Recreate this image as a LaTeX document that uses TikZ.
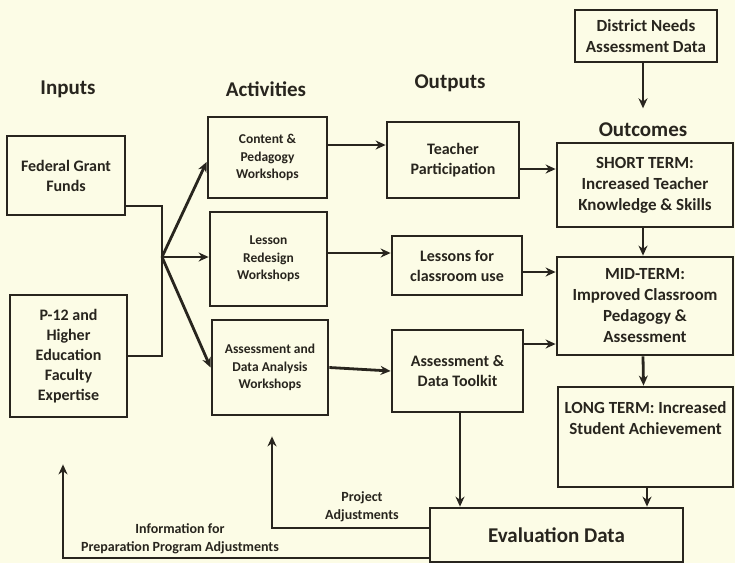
\documentclass[tikz,border=0pt]{standalone}
\usepackage{fontspec}
\setmainfont{Carlito}
\usetikzlibrary{arrows.meta}
\definecolor{paper}{RGB}{252,252,230}
\definecolor{ink}{RGB}{40,37,30}

\begin{document}
\begin{tikzpicture}[x=1pt, y=-1pt, line width=2.8pt, color=ink,
  box/.style={draw, rectangle, align=center, inner sep=2pt},
  head/.style={font=\fontsize{21}{24}\selectfont\bfseries},
  intxt/.style={font=\fontsize{16}{20}\selectfont\bfseries},
  wstxt/.style={font=\fontsize{13.5}{17.5}\selectfont\bfseries},
  outtxt/.style={font=\fontsize{17}{21}\selectfont\bfseries},
  labtxt/.style={font=\fontsize{14}{17.5}\selectfont\bfseries, align=center},
  arr/.style={-{Stealth[length=10pt,width=9pt]}}]
\fill[paper] (0,0) rectangle (735,563);
\useasboundingbox (0,0) rectangle (735,563);

% headers
\node[head] (hin) at (68,89) {Inputs};
\node[head] (hact) at (266,89) {Activities};
\node[head] (hout) at (450,83) {Outputs};
\node[head] (hoc) at (643,130) {Outcomes};

% inputs
\node[box, intxt, minimum width=118pt, minimum height=79pt] (fed) at (66,175.5) {Federal Grant\\Funds};
\node[box, intxt, minimum width=117pt, minimum height=122pt] (p12) at (68.5,356) {P-12 and\\Higher\\Education\\Faculty\\Expertise};

% activities
\node[box, wstxt, minimum width=119pt, minimum height=81pt] (cont) at (267.5,157.5) {Content \&\\Pedagogy\\Workshops};
\node[box, wstxt, minimum width=117pt, minimum height=94pt] (less) at (268.5,259) {Lesson\\Redesign\\Workshops};
\node[box, wstxt, minimum width=116pt, minimum height=95pt] (aws) at (270,367.5) {Assessment and\\Data Analysis\\Workshops};

% outputs
\node[box, intxt, minimum width=132pt, minimum height=76pt] (teach) at (453,160) {Teacher\\Participation};
\node[box, intxt, minimum width=130pt, minimum height=59pt] (lout) at (457,265.5) {Lessons for\\classroom use};
\node[box, intxt, minimum width=131pt, minimum height=82pt] (kit) at (457.5,371) {Assessment \&\\Data Toolkit};

% outcomes
\node[box, minimum width=142pt, minimum height=52pt, font=\fontsize{17}{21.5}\selectfont\bfseries] (dist) at (646,36) {District Needs\\Assessment Data};
\node[box, outtxt, minimum width=176pt, minimum height=84pt] (short) at (645,185) {SHORT TERM:\\Increased Teacher\\Knowledge \& Skills};
\node[box, outtxt, minimum width=176pt, minimum height=98pt] (mid) at (645,306) {MID-TERM:\\Improved Classroom\\Pedagogy \&\\Assessment};
\node[box, minimum width=175pt, minimum height=100pt] (long) at (645.5,437) {};
\node[outtxt, align=center] (longtxt) at (645.5,418) {LONG TERM: Increased\\Student Achievement};
\node[box, minimum width=253pt, minimum height=54pt, font=\fontsize{21}{24}\selectfont\bfseries] (eval) at (556.5,535) {Evaluation Data};

% inputs to activities
\coordinate (jn) at (162,257);
\draw ([yshift=-30.5pt]fed.east) -| (jn);
\draw (p12.east) -| (jn);
\draw[arr] (jn) -- ([yshift=-4.5pt]cont.west);
\draw[arr] (jn) -- (less.west |- jn);
\draw[arr] (jn) -- (aws.west);

% activities to outputs
\draw[arr] ([yshift=12.5pt]cont.east) coordinate (c1) -- (teach.west |- c1);
\draw[arr] ([yshift=6pt]less.east) coordinate (c2) -- (lout.west |- c2);
\draw[arr] (aws.east) -- (kit.west);

% outputs to outcomes
\draw[arr] ([yshift=-9pt]teach.east) coordinate (c3) -- (short.west |- c3);
\draw[arr] ([yshift=-6.5pt]lout.east) coordinate (c4) -- (mid.west |- c4);
\draw[arr] ([yshift=27pt]kit.east) coordinate (c5) -- (mid.west |- c5);
\draw[arr] ([xshift=-3pt]dist.south) -- ([xshift=0pt,yshift=10pt]hoc.north);
\draw[arr] ([xshift=-2pt]short.south) -- ([xshift=-2pt]mid.north);
\draw[arr] ([xshift=-2pt]mid.south) -- ([xshift=-2pt]long.north);
\draw[arr] ([xshift=1.5pt]long.south) -- ([xshift=1.5pt]long.south |- eval.north);
\draw[arr] ([xshift=2.5pt]kit.south) -- ([xshift=2.5pt]kit.south |- eval.north);

% feedback
\draw[arr] ([yshift=7pt]eval.west) -| ([xshift=2pt,yshift=-20pt]aws.south);
\draw[arr] ([yshift=-23pt]eval.west) -| ([xshift=-5.5pt,yshift=-46pt]p12.south);
\node[labtxt] (proj) at (362,507) {Project\\Adjustments};
\node[labtxt] (prep) at (180,539) {Information for\\Preparation Program Adjustments};
\end{tikzpicture}
\end{document}
